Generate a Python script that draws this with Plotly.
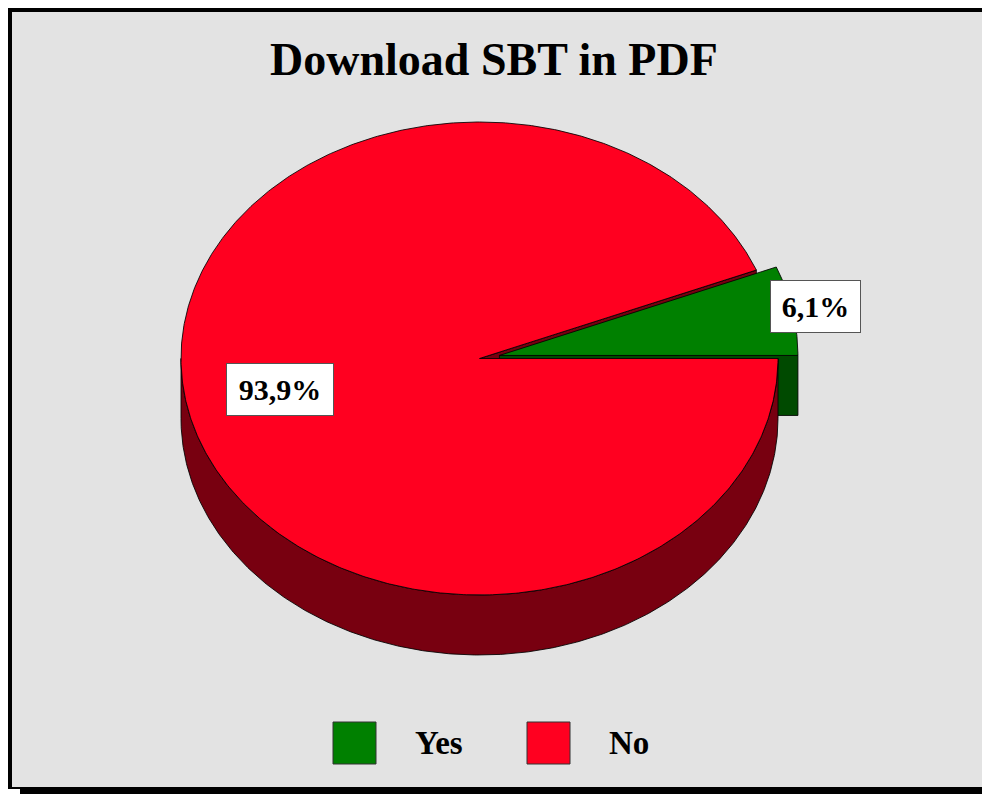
import math
import plotly.graph_objects as go

# ---- data ----
categories = ["Yes", "No"]
values = [6.1, 93.9]
top_colors = ["#008000", "#FF0020"]
side_colors = ["#004A00", "#780010"]
explode = [0.068, 0.0]
title_text = "Download SBT in PDF"

# ---- layout constants (pixels, in page coordinates) ----
PAGE_W, PAGE_H = 990, 794
OFF = 8  # default page body margin
W, H = PAGE_W - OFF, PAGE_H - OFF
CX, CY = 479.5, 358.5
RX, RY = 298.5, 236.5
DEPTH = 60
FONT = "Liberation Serif"

fig = go.Figure()

total = sum(values)
slices = []
a = 0.0
for cat, v, ct, cs, ex in zip(categories, values, top_colors, side_colors, explode):
    a0 = a
    a1 = a + 360.0 * v / total
    mid = math.radians((a0 + a1) / 2)
    ox = ex * RX * math.cos(mid)
    oy = -ex * RY * math.sin(mid)
    slices.append(dict(cat=cat, v=v, a0=a0, a1=a1, ct=ct, cs=cs, ox=ox, oy=oy))
    a = a1


def pt(s, ang, dz=0.0, frac=1.0):
    r = math.radians(ang)
    return (CX + s["ox"] + frac * RX * math.cos(r),
            CY + s["oy"] - frac * RY * math.sin(r) + dz)


def arc(s, b0, b1, dz=0.0, n=None):
    if n is None:
        n = max(4, int(abs(b1 - b0) * 2))
    return [pt(s, b0 + (b1 - b0) * k / n, dz) for k in range(n + 1)]


def add_poly(points, fill, line_color="rgba(0,0,0,0.85)", lw=1):
    xs = [p[0] for p in points] + [points[0][0]]
    ys = [p[1] for p in points] + [points[0][1]]
    fig.add_trace(go.Scatter(x=xs, y=ys, mode="lines", fill="toself",
                             fillcolor=fill, line=dict(color=line_color, width=lw),
                             hoverinfo="skip", showlegend=False))


# radial faces (visible ones), back to front
faces = []
for s in slices:
    for ang, normal in ((s["a0"], s["a0"] - 90), (s["a1"], s["a1"] + 90)):
        if math.sin(math.radians(normal)) < -1e-9:
            faces.append((math.sin(math.radians(ang)), s, ang))
faces.sort(key=lambda f: -f[0])
for _, s, ang in faces:
    c = (CX + s["ox"], CY + s["oy"])
    p = pt(s, ang)
    add_poly([c, p, (p[0], p[1] + DEPTH), (c[0], c[1] + DEPTH)], s["cs"])

# outer walls (front half)
for s in slices:
    b0 = max(s["a0"], 180.0)
    b1 = min(s["a1"], 360.0)
    if b1 > b0:
        top = arc(s, b0, b1)
        bot = arc(s, b1, b0, DEPTH)
        add_poly(top + bot, s["cs"])

# tops
for s in sorted(slices, key=lambda s: -(s["a1"] - s["a0"])):
    c = (CX + s["ox"], CY + s["oy"])
    add_poly([c] + arc(s, s["a0"], s["a1"]), s["ct"])

# percentage labels
annotations = []
label_frac = {"Yes": 1.08, "No": 0.68}
label_size = {"Yes": (89, 51), "No": (106, 51)}
for s in slices:
    mid = (s["a0"] + s["a1"]) / 2
    x, y = pt(s, mid, frac=label_frac[s["cat"]])
    w, h = label_size[s["cat"]]
    annotations.append(dict(
        x=x, y=y, xref="x", yref="y", showarrow=False,
        text=f"{s['v']:.1f}%".replace(".", ","),
        font=dict(family=FONT, size=30, color="black", weight="bold"),
        bgcolor="white", bordercolor="#555555", borderwidth=1, borderpad=0,
        width=w, height=h, xanchor="center", yanchor="middle"))

# title
annotations.append(dict(x=494, y=59, xref="x", yref="y", showarrow=False,
                        text=title_text, xanchor="center", yanchor="middle",
                        font=dict(family=FONT, size=46, color="black", weight="bold")))

# frame, shadow, background
shapes = [
    dict(type="rect", x0=20, y0=20, x1=PAGE_W, y1=PAGE_H, fillcolor="black",
         line=dict(width=0), layer="below"),
    dict(type="rect", x0=8, y0=8, x1=988, y1=789, fillcolor="black",
         line=dict(width=0), layer="below"),
    dict(type="rect", x0=12, y0=12, x1=986, y1=787, fillcolor="#E3E3E3",
         line=dict(width=0), layer="below"),
]

# legend
for i, (cat, col) in enumerate(zip(categories, top_colors)):
    x0 = 333 + i * 194
    shapes.append(dict(type="rect", x0=x0, y0=722, x1=x0 + 43, y1=764,
                       fillcolor=col, line=dict(color="#333333", width=1)))
    annotations.append(dict(x=x0 + 80, y=743, xref="x", yref="y", showarrow=False,
                            text=cat, xanchor="left", yanchor="middle",
                            font=dict(family=FONT, size=33, color="black", weight="bold")))

fig.update_layout(
    width=W, height=H,
    margin=dict(l=0, r=0, t=0, b=0),
    paper_bgcolor="white",
    plot_bgcolor="rgba(0,0,0,0)",
    xaxis=dict(range=[OFF, PAGE_W], visible=False, fixedrange=True),
    yaxis=dict(range=[PAGE_H, OFF], visible=False, fixedrange=True),
    shapes=shapes,
    annotations=annotations,
    showlegend=False,
)

fig.write_html("out.html")
